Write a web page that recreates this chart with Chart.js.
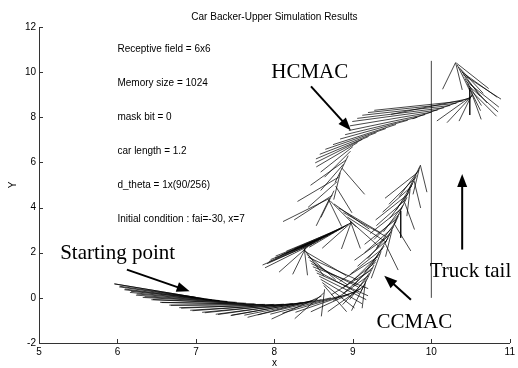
<!DOCTYPE html>
<html>
<head>
<meta charset="utf-8">
<title>Car Backer-Upper Simulation Results</title>
<script src="https://cdn.jsdelivr.net/npm/chart.js@4.4.1/dist/chart.umd.min.js"></script>
<style>
  html, body { margin: 0; padding: 0; background: #fff; }
</style>
</head>
<body>
<canvas id="grafico" width="518" height="368"></canvas>
<script>
// car rear position and body angle (degrees, rear -> front), one entry per drawn car
const hcX = [7.00, 7.10, 7.20, 7.30, 7.40, 7.50, 7.62, 7.74, 7.86, 7.98, 8.10, 8.22, 8.34, 8.46,
  8.55, 8.60, 8.63, 8.64, 8.63, 8.61, 8.59, 8.57, 8.54, 8.52, 8.49, 8.47, 8.45, 8.43, 8.41, 8.39, 8.38,
  8.38, 8.40, 8.43, 8.48, 8.52, 8.56, 8.60, 8.64, 8.68, 8.72, 8.76, 8.80, 8.84, 8.88, 8.91, 8.94, 8.97,
  8.98, 8.98, 8.97, 8.96, 8.93, 8.88, 8.82, 8.76, 8.71, 8.69, 8.70, 8.71,
  8.74, 8.76, 8.78, 8.80, 8.82, 8.84, 8.86, 8.88, 8.91, 8.94, 8.97,
  9.00, 9.06, 9.12, 9.20, 9.30, 9.42, 9.55, 9.70, 9.82, 9.92, 10.00, 10.08, 10.16, 10.24, 10.32, 10.40,
  10.47, 10.50, 10.51, 10.52, 10.52, 10.51, 10.50, 10.49, 10.48, 10.46, 10.45, 10.43, 10.42, 10.40,
  10.39, 10.37, 10.35, 10.33, 10.31, 10.31, 10.32];
const hcY = [0.02, -0.04, -0.09, -0.13, -0.17, -0.21, -0.25, -0.28, -0.30, -0.31, -0.30, -0.27, -0.22, -0.15,
  -0.06, 0.08, 0.22, 0.38, 0.55, 0.68, 0.82, 0.96, 1.10, 1.24, 1.38, 1.52, 1.66, 1.80, 1.94, 2.06, 2.15,
  2.20, 2.23, 2.28, 2.37, 2.45, 2.52, 2.60, 2.68, 2.75, 2.82, 2.90, 2.98, 3.05, 3.12, 3.19, 3.26, 3.32,
  3.34, 3.36, 3.38, 3.42, 3.58, 3.78, 3.98, 4.16, 4.30, 4.35, 4.38, 4.42,
  4.55, 4.75, 4.95, 5.15, 5.35, 5.55, 5.75, 5.92, 6.10, 6.30, 6.50,
  6.70, 6.88, 7.02, 7.15, 7.32, 7.50, 7.68, 7.87, 8.00, 8.12, 8.22, 8.32, 8.42, 8.52, 8.62, 8.72,
  8.82, 8.88, 8.92, 8.95, 9.02, 9.10, 9.20, 9.30, 9.38, 9.48, 9.58, 9.70, 9.80, 9.90,
  10.00, 10.12, 10.22, 10.32, 10.41, 10.43, 10.40];
const hcAng = [150, 154, 158, 162, 166, 169, 172, 176, 181, 186, 192, 198, 205, 212,
  222, 238, 252, 268, 284, 290, 296, 300, 303, 298, 306, 300, 294, 302, 288, 296, 282,
  272, 262, 252, 240, 236, 237, 236, 235, 236, 234, 236, 237, 235, 238, 237, 240, 244,
  252, 264, 276, 288, 294, 297, 296, 292, 286, 278, 262, 240,
  246, 262, 280, 252, 244, 266, 284, 256, 248, 262, 254,
  250, 244, 240, 236, 233, 230, 228, 224, 220, 216, 210, 205, 203, 201, 200, 200,
  215, 232, 255, 248, 262, 276, 286, 270, 288, 278, 290, 280, 284, 294,
  292, 282, 285, 278, 274, 262, 290];

const ccX = [7.00, 7.10, 7.20, 7.30, 7.40, 7.52, 7.64, 7.76, 7.88, 8.00, 8.12, 8.24, 8.36, 8.48,
  8.60, 8.72, 8.84, 8.95, 9.04,
  9.10, 9.13, 9.15, 9.16, 9.18, 9.20, 9.21, 9.23, 9.25, 9.27, 9.29, 9.30, 9.32, 9.34, 9.36, 9.38,
  9.40, 9.41, 9.43, 9.45, 9.47, 9.48, 9.50, 9.52, 9.53, 9.55, 9.56, 9.58, 9.60, 9.61, 9.63, 9.64,
  9.66, 9.67, 9.69, 9.70, 9.72, 9.73, 9.75, 9.76, 9.78, 9.79, 9.81, 9.82, 9.84, 9.85, 9.86, 9.86];
const ccY = [0.02, -0.03, -0.08, -0.12, -0.16, -0.20, -0.24, -0.27, -0.29, -0.29, -0.28, -0.25, -0.21, -0.15,
  -0.08, 0.00, 0.08, 0.17, 0.28,
  0.40, 0.50, 0.62, 0.74, 0.86, 0.98, 1.10, 1.22, 1.34, 1.46, 1.58, 1.70, 1.82, 1.94, 2.06, 2.18,
  2.30, 2.42, 2.54, 2.66, 2.78, 2.90, 3.02, 3.14, 3.26, 3.38, 3.50, 3.62, 3.74, 3.86, 3.98, 4.10,
  4.22, 4.34, 4.46, 4.58, 4.70, 4.82, 4.94, 5.06, 5.18, 5.30, 5.42, 5.54, 5.66, 5.78, 5.87, 5.88];
const ccAng = [150, 153, 157, 160, 164, 168, 172, 177, 182, 188, 194, 200, 206, 211,
  215, 219, 222, 225, 230,
  238, 248, 262, 268, 255, 248, 258, 245, 252, 262, 250, 256, 246, 254, 264, 250,
  258, 278, 252, 260, 248, 256, 266, 252, 280, 258, 250, 262, 254, 270, 250, 258,
  276, 252, 262, 250, 258, 268, 252, 260, 274, 254, 262, 250, 258, 266, 262, 274];

const carLength = 1.2;
const tailX = [10, 10];
const tailY = [0, 10.5];

const infoText = ['Receptive field = 6x6', 'Memory size = 1024', 'mask bit = 0',
  'car length = 1.2', 'd_theta = 1x(90/256)', 'Initial condition : fai=-30, x=7'];
const infoY = [11, 9.5, 8, 6.5, 5, 3.5];

// big labels and arrows (data coordinates)
const notes = [
  { text: 'HCMAC', x: 7.96, y: 9.76 },
  { text: 'Starting point', x: 5.27, y: 1.74 },
  { text: 'Truck tail', x: 9.98, y: 0.94 },
  { text: 'CCMAC', x: 9.30, y: -1.33 }
];
const arrows = [
  [8.466, 9.37, 8.975, 7.42],
  [6.12, 1.25, 6.92, 0.29],
  [10.393, 2.14, 10.393, 5.49],
  [9.74, -0.08, 9.40, 0.98]
];

function carSegments(xs, ys, angs) {
  var pts = [];
  for (var i = 0; i < xs.length; i++) {
    var a = angs[i] * Math.PI / 180;
    pts.push({ x: xs[i], y: ys[i] });
    pts.push({ x: xs[i] + carLength * Math.cos(a), y: ys[i] + carLength * Math.sin(a) });
    pts.push({ x: null, y: null });
  }
  return pts;
}

function drawArrow(c, x0, y0, x1, y1) {
  var ang = Math.atan2(y1 - y0, x1 - x0);
  var hl = 13, hw = 5;
  var cs = Math.cos(ang), sn = Math.sin(ang);
  c.lineWidth = 2;
  c.beginPath();
  c.moveTo(x0, y0);
  c.lineTo(x1 - hl * 0.7 * cs, y1 - hl * 0.7 * sn);
  c.stroke();
  c.beginPath();
  c.moveTo(x1, y1);
  c.lineTo(x1 - hl * cs + hw * sn, y1 - hl * sn - hw * cs);
  c.lineTo(x1 - hl * cs - hw * sn, y1 - hl * sn + hw * cs);
  c.closePath();
  c.fill();
}

const decor = {
  id: 'decor',
  afterDraw(chart) {
    var c = chart.ctx;
    var xs = chart.scales.x, ys = chart.scales.y;
    var area = chart.chartArea;
    c.save();
    c.strokeStyle = '#333';
    c.lineWidth = 1;
    // inward ticks
    xs.ticks.forEach(t => {
      var px = Math.round(xs.getPixelForValue(t.value)) + 0.5;
      c.beginPath(); c.moveTo(px, area.bottom); c.lineTo(px, area.bottom - 4); c.stroke();
    });
    ys.ticks.forEach(t => {
      var py = Math.round(ys.getPixelForValue(t.value)) + 0.5;
      c.beginPath(); c.moveTo(area.left, py); c.lineTo(area.left + 4, py); c.stroke();
    });

    c.fillStyle = '#000';
    c.font = '10px "Liberation Sans", Arial, sans-serif';
    c.textAlign = 'center';
    c.textBaseline = 'alphabetic';
    c.fillText('Car Backer-Upper Simulation Results', (area.left + area.right) / 2, 19.5);
    c.textBaseline = 'middle';
    c.fillText('x', (area.left + area.right) / 2, 363);
    c.save();
    c.translate(13, (area.top + area.bottom) / 2);
    c.rotate(-Math.PI / 2);
    c.fillText('Y', 0, 0);
    c.restore();

    c.textAlign = 'left';
    for (var i = 0; i < infoText.length; i++) {
      c.fillText(infoText[i], xs.getPixelForValue(6), ys.getPixelForValue(infoY[i]));
    }

    c.font = '21px "Liberation Serif", "Times New Roman", serif';
    c.textBaseline = 'alphabetic';
    notes.forEach(n => {
      c.fillText(n.text, xs.getPixelForValue(n.x), ys.getPixelForValue(n.y));
    });

    c.strokeStyle = '#000';
    arrows.forEach(a => {
      drawArrow(c, xs.getPixelForValue(a[0]), ys.getPixelForValue(a[1]),
        xs.getPixelForValue(a[2]), ys.getPixelForValue(a[3]));
    });
    c.restore();
  }
};

var ctx = document.getElementById('grafico');

var chart = new Chart(ctx, {
  type: 'scatter',
  data: {
    datasets: [
      {
        label: 'HCMAC',
        data: carSegments(hcX, hcY, hcAng),
        showLine: true,
        spanGaps: false,
        borderColor: 'rgba(0,0,0,0.9)',
        borderWidth: 0.8,
        pointRadius: 0
      },
      {
        label: 'CCMAC',
        data: carSegments(ccX, ccY, ccAng),
        showLine: true,
        spanGaps: false,
        borderColor: 'rgba(0,0,0,0.9)',
        borderWidth: 0.8,
        pointRadius: 0
      },
      {
        label: 'Truck tail',
        data: [{ x: tailX[0], y: tailY[0] }, { x: tailX[1], y: tailY[1] }],
        showLine: true,
        borderColor: '#444',
        borderWidth: 1,
        pointRadius: 0
      }
    ]
  },
  options: {
    responsive: false,
    animation: false,
    layout: { padding: { top: 27, right: 7, left: 0, bottom: 0 } },
    plugins: {
      legend: { display: false },
      tooltip: { enabled: false },
      title: { display: false }
    },
    scales: {
      x: {
        type: 'linear',
        min: 5,
        max: 11,
        ticks: {
          stepSize: 1,
          padding: 3,
          maxRotation: 0,
          color: '#000',
          font: { family: '"Liberation Sans", Arial, sans-serif', size: 10 }
        },
        grid: { drawOnChartArea: false, drawTicks: false },
        border: { display: true, color: '#333', width: 1 },
        afterFit: s => { s.height = 25; }
      },
      y: {
        type: 'linear',
        min: -2,
        max: 12,
        ticks: {
          stepSize: 2,
          padding: 3,
          color: '#000',
          font: { family: '"Liberation Sans", Arial, sans-serif', size: 10 }
        },
        grid: { drawOnChartArea: false, drawTicks: false },
        border: { display: true, color: '#333', width: 1 },
        afterFit: s => { s.width = 39; }
      }
    }
  },
  plugins: [decor]
});
</script>
</body>
</html>
